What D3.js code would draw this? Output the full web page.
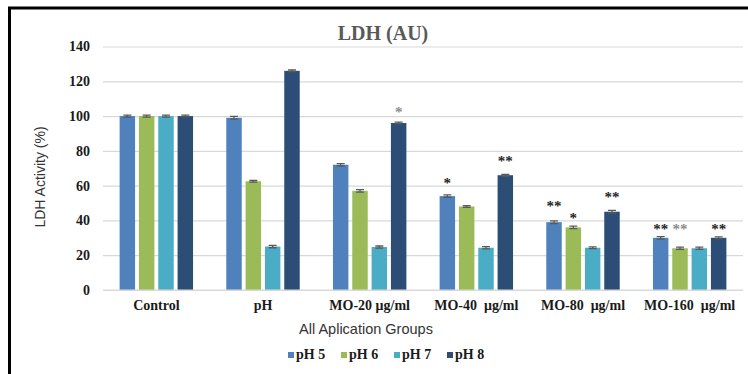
<!DOCTYPE html>
<html><head><meta charset="utf-8">
<script src="https://cdn.jsdelivr.net/npm/d3@7"></script>
<style>
body{margin:0;background:#fff;}
svg{display:block;}
text{white-space:pre;}
</style></head>
<body><svg id="c" width="748" height="374"></svg>
<script>
const categories = ["Control","pH","MO-20 μg/ml","MO-40  μg/ml","MO-80  μg/ml","MO-160  μg/ml"];
const seriesNames = ["pH 5","pH 6","pH 7","pH 8"];
const seriesColors = ["#4F81BD","#9BBB59","#4BACC6","#2C4D75"];
const pH5 = [100, 99, 72, 54, 39, 30];
const pH6 = [100, 62.5, 57, 48, 36, 24];
const pH7 = [100, 25, 24.7, 24.3, 24.3, 24];
const pH8 = [100, 126, 96, 66, 45, 30];
const err5 = [0.6, 0.8, 0.7, 0.7, 0.8, 0.7];
const err6 = [0.6, 0.5, 0.7, 0.5, 0.7, 0.7];
const err7 = [0.6, 0.7, 0.6, 0.6, 0.5, 0.7];
const err8 = [0.5, 0.5, 0.5, 0.5, 0.8, 0.6];
const yTicks = [0,20,40,60,80,100,120,140];
const starGroups = ["MO-20 μg/ml","MO-40  μg/ml","MO-40  μg/ml","MO-80  μg/ml","MO-80  μg/ml","MO-80  μg/ml","MO-160  μg/ml","MO-160  μg/ml","MO-160  μg/ml"];
const starSeries = ["pH 8","pH 5","pH 8","pH 5","pH 6","pH 8","pH 5","pH 6","pH 8"];
const starLabels = ["*","*","**","**","*","**","**","**","**"];
const starY = [104, 63, 76, 50, 43, 55, 37, 37, 37];
const starColor = ["#8c8c8c","#262626","#262626","#262626","#262626","#262626","#262626","#8c8c8c","#262626"];

const values = [pH5, pH6, pH7, pH8];
const errs = [err5, err6, err7, err8];

const svg = d3.select("#c");
const serif = "'Liberation Serif', 'Times New Roman', serif";
const sans = "'Liberation Sans', Arial, sans-serif";

// outer frame
svg.append("rect").attr("x",9.5).attr("y",8).attr("width",800).attr("height",400)
  .attr("fill","none").attr("stroke","#000").attr("stroke-width",3);

const y = d3.scaleLinear().domain([0,140]).range([290,46.5]);
const x0 = d3.scaleBand().domain(categories).range([103,743]).padding(0);
const x1 = d3.scaleBand().domain(seriesNames).range([0,x0.bandwidth()]).paddingInner(0.2).paddingOuter(0.86);

// gridlines
const yAxis = d3.axisLeft(y).tickValues(yTicks).tickSize(-(743-103)).tickPadding(13).tickFormat(d3.format("d"));
const ga = svg.append("g").attr("transform","translate(103,0)").call(yAxis);
ga.select(".domain").remove();
ga.selectAll(".tick line").attr("stroke","#d9d9d9").attr("stroke-width",1.2);
ga.selectAll(".tick text").attr("font-family",serif).attr("font-weight","bold").attr("font-size",14).attr("fill","#1a1a1a");

// bars
const groups = svg.append("g").selectAll("g").data(categories).join("g")
  .attr("transform",d=>`translate(${x0(d)},0)`);
seriesNames.forEach((s,si)=>{
  groups.append("rect")
    .attr("x",x1(s)).attr("width",x1.bandwidth())
    .attr("y",(d,i)=>y(values[si][i])).attr("height",(d,i)=>y(0)-y(values[si][i]))
    .attr("fill",seriesColors[si]);
});
// error bars
seriesNames.forEach((s,si)=>{
  const cx = x1(s)+x1.bandwidth()/2;
  groups.append("path")
    .attr("d",(d,i)=>{
      const v=values[si][i], e=errs[si][i];
      const t=y(v+e), b=y(v-e);
      return `M${cx-4},${t}H${cx+4}M${cx},${t}V${b}M${cx-4},${b}H${cx+4}`;
    })
    .attr("stroke","#595959").attr("stroke-width",1.3).attr("fill","none");
});

// x axis baseline
svg.append("line").attr("x1",103).attr("x2",743).attr("y1",y(0)).attr("y2",y(0))
  .attr("stroke","#d9d9d9").attr("stroke-width",1.2);

// category labels
const xAxis = d3.axisBottom(x0).tickSize(0).tickPadding(10);
const gx = svg.append("g").attr("transform",`translate(0,${y(0)})`).call(xAxis);
gx.select(".domain").remove();
gx.selectAll(".tick text").attr("font-family",serif).attr("font-weight","bold").attr("font-size",14).attr("fill","#1a1a1a");

// stars
svg.append("g").selectAll("text").data(starLabels).join("text")
  .attr("x",(d,i)=>x0(starGroups[i])+x1(starSeries[i])+x1.bandwidth()/2)
  .attr("y",(d,i)=>y(starY[i])+8)
  .attr("text-anchor","middle")
  .attr("font-family",serif).attr("font-weight","bold").attr("font-size",15)
  .attr("fill",(d,i)=>starColor[i])
  .text(d=>d);

// title
svg.append("text").attr("x",383).attr("y",40).attr("text-anchor","middle")
  .attr("font-family",serif).attr("font-weight","bold").attr("font-size",20).attr("fill","#595959")
  .text("LDH (AU)");

// axis titles
svg.append("text").attr("transform","translate(45,177) rotate(-90)").attr("text-anchor","middle")
  .attr("font-family",sans).attr("font-size",14).attr("fill","#333")
  .text("LDH Activity (%)");
svg.append("text").attr("x",366).attr("y",334).attr("text-anchor","middle")
  .attr("font-family",sans).attr("font-size",14.5).attr("fill","#333")
  .text("All Aplication Groups");

// legend
const legX = d3.scaleBand().domain(seriesNames).range([288,500]);
const lg = svg.append("g").selectAll("g").data(seriesNames).join("g")
  .attr("transform",d=>`translate(${legX(d)},0)`);
lg.append("rect").attr("x",0).attr("y",352).attr("width",6).attr("height",6)
  .attr("fill",(d,i)=>seriesColors[i]);
lg.append("text").attr("x",8).attr("y",359)
  .attr("font-family",serif).attr("font-weight","bold").attr("font-size",14).attr("fill","#1a1a1a")
  .text(d=>d);
</script></body></html>
